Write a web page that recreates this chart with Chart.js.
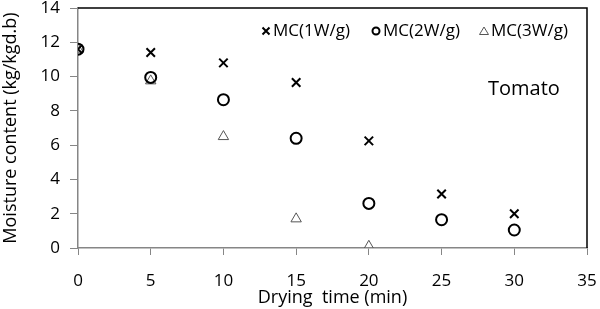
<!DOCTYPE html>
<html lang="en">
<head>
  <meta charset="UTF-8">
  <title>Moisture content - Tomato</title>
  <script src="https://cdn.jsdelivr.net/npm/chart.js"></script>
  <style>
    body { margin: 0; background: #fff; }
    #wrap { width: 600px; height: 309px; }
  </style>
</head>
<body>
  <div id="wrap"><canvas id="mcChart"></canvas></div>

  <script>
    // drying time (min) and moisture content (kg/kg d.b)
    const timeMin = [0, 5, 10, 15, 20, 25, 30];
    const mc1W = [11.6, 11.4, 10.8, 9.65, 6.25, 3.15, 2.0];
    const mc2W = [11.6, 9.95, 8.65, 6.4, 2.6, 1.65, 1.05];
    const mc3W = [11.6, 9.75, 6.5, 1.7, 0.1];
    const seriesLabels = ['MC(1W/g)', 'MC(2W/g)', 'MC(3W/g)'];
    const xTicks = [0, 5, 10, 15, 20, 25, 30, 35];
    const yTicks = [0, 2, 4, 6, 8, 10, 12, 14];

    const font = "'Open Sans', 'Noto Sans', sans-serif";
    const toPoints = (ys) => ys.map((y, i) => ({ x: timeMin[i], y: y }));

    // top/right frame, legend and the "Tomato" note
    const decor = {
      id: 'decor',
      afterDraw(chart) {
        const { ctx, chartArea: a } = chart;
        ctx.save();
        ctx.strokeStyle = '#000';
        ctx.lineWidth = 1.5;
        ctx.beginPath();
        ctx.moveTo(a.left, a.top);
        ctx.lineTo(a.right, a.top);
        ctx.lineTo(a.right, a.bottom);
        ctx.stroke();

        ctx.font = '17px ' + font;
        ctx.fillStyle = '#000';
        ctx.textBaseline = 'middle';
        const legendX = [266, 376, 484];
        chart.data.datasets.forEach((ds, i) => {
          const cx = legendX[i], cy = 31;
          ctx.strokeStyle = ds.borderColor;
          ctx.lineWidth = ds.pointBorderWidth;
          ctx.beginPath();
          if (ds.pointStyle === 'crossRot') {
            ctx.moveTo(cx - 3.5, cy - 3.5); ctx.lineTo(cx + 3.5, cy + 3.5);
            ctx.moveTo(cx + 3.5, cy - 3.5); ctx.lineTo(cx - 3.5, cy + 3.5);
          } else if (ds.pointStyle === 'circle') {
            ctx.arc(cx, cy, 3.5, 0, Math.PI * 2);
          } else {
            ctx.moveTo(cx, cy - 4); ctx.lineTo(cx + 4.5, cy + 3.5); ctx.lineTo(cx - 4.5, cy + 3.5); ctx.closePath();
          }
          ctx.stroke();
          ctx.fillText(ds.label, cx + 7, cy);
        });

        ctx.font = '20px ' + font;
        ctx.fillText('Tomato', 488, 89);
        ctx.restore();
      }
    };

    // keep the plot box where the reference has it, ignoring tick label overflow
    const noOverflow = (s) => {
      s.paddingTop = 0; s.paddingBottom = 0; s.paddingLeft = 0; s.paddingRight = 0;
    };

    new Chart(document.getElementById('mcChart'), {
      type: 'scatter',
      data: {
        datasets: [
          {
            label: seriesLabels[0], data: toPoints(mc1W),
            pointStyle: 'crossRot', pointRadius: 6, pointBorderWidth: 2,
            borderColor: '#000', backgroundColor: 'rgba(0,0,0,0)'
          },
          {
            label: seriesLabels[1], data: toPoints(mc2W),
            pointStyle: 'circle', pointRadius: 5.5, pointBorderWidth: 2,
            borderColor: '#000', backgroundColor: 'rgba(0,0,0,0)'
          },
          {
            label: seriesLabels[2], data: toPoints(mc3W),
            pointStyle: 'triangle', pointRadius: 6, pointBorderWidth: 1,
            borderColor: '#555', backgroundColor: 'rgba(0,0,0,0)'
          }
        ]
      },
      options: {
        responsive: true,
        maintainAspectRatio: false,
        animation: false,
        layout: { padding: { left: 0, right: 13, top: 8, bottom: 0 } },
        plugins: { legend: { display: false }, tooltip: { enabled: false } },
        scales: {
          x: {
            type: 'linear', min: 0, max: 35,
            afterBuildTicks: (s) => { s.ticks = xTicks.map(v => ({ value: v })); },
            afterFit: (s) => { s.height = 61; noOverflow(s); },
            grid: { drawOnChartArea: false, tickLength: 7, color: '#868686' },
            border: { color: '#868686', width: 1.5 },
            ticks: { color: '#000', font: { family: font, size: 17 }, padding: 16, maxRotation: 0 },
            title: { display: true, text: 'Drying  time (min)', color: '#000', font: { family: font, size: 18 }, padding: 0 }
          },
          y: {
            type: 'linear', min: 0, max: 14,
            afterBuildTicks: (s) => { s.ticks = yTicks.map(v => ({ value: v })); },
            afterFit: (s) => { s.width = 78; noOverflow(s); },
            grid: { drawOnChartArea: false, tickLength: 8, color: '#868686' },
            border: { color: '#868686', width: 1.5 },
            ticks: { color: '#000', font: { family: font, size: 17 }, padding: 10 },
            title: { display: true, text: 'Moisture content (kg/kgd.b)', color: '#000', font: { family: font, size: 18 }, padding: 0 }
          }
        }
      },
      plugins: [decor]
    });
  </script>
</body>
</html>
